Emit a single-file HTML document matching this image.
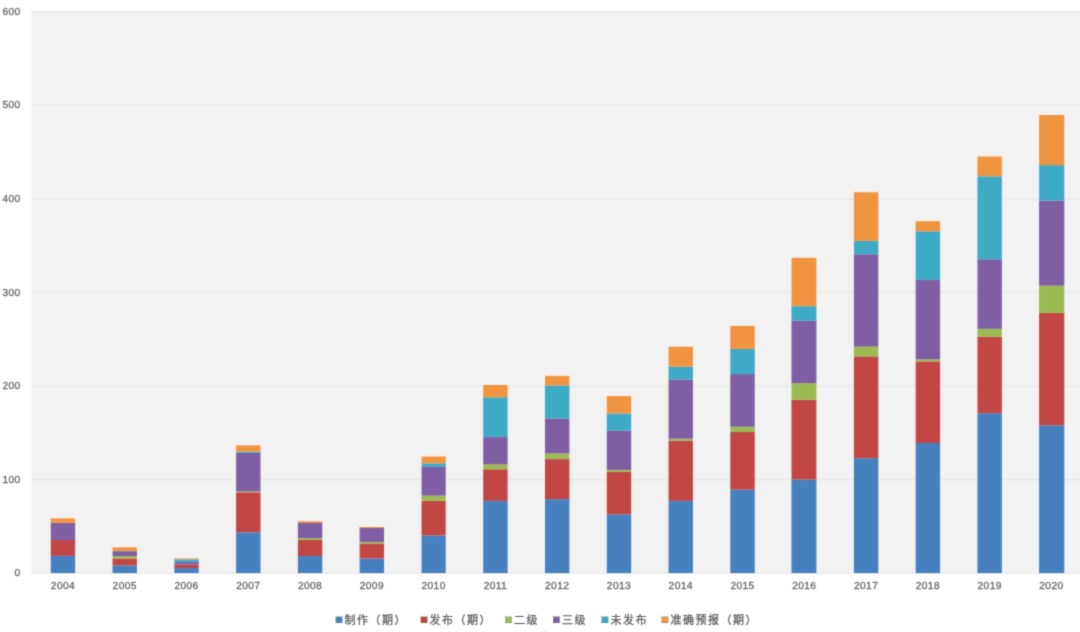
<!DOCTYPE html>
<html lang="zh">
<head>
<meta charset="utf-8">
<title>chart</title>
<style>
html,body{margin:0;padding:0;background:#fff;}
body{width:1080px;height:632px;overflow:hidden;font-family:"Liberation Sans","Noto Sans CJK SC",sans-serif;}
svg{display:block;}
.ax{font-family:"Liberation Sans",sans-serif;font-size:10.2px;letter-spacing:0.4px;text-rendering:geometricPrecision;fill:#646464;stroke:#646464;stroke-width:0.28px;}
.lg{font-family:"Liberation Sans","Noto Sans CJK SC",sans-serif;font-size:11px;letter-spacing:1.5px;fill:#585858;stroke:#585858;stroke-width:0.25px;}
</style>
</head>
<body>
<svg width="1080" height="632" viewBox="0 0 1080 632">
<defs><filter id="soft" filterUnits="userSpaceOnUse" x="0" y="0" width="1080" height="632" color-interpolation-filters="sRGB"><feConvolveMatrix order="3" kernelMatrix="0.0289 0.1122 0.0289 0.1122 0.4356 0.1122 0.0289 0.1122 0.0289" edgeMode="duplicate" preserveAlpha="true"/></filter></defs>
<g filter="url(#soft)">
<rect x="0" y="0" width="1080" height="632" fill="#ffffff"/>
<rect x="31.6" y="10.4" width="1053.4" height="562.90" fill="#f2f2f2"/>
<g stroke="#e7e7e7" stroke-width="1.3">
<line x1="31.6" y1="573.20" x2="1085" y2="573.20"/>
<line x1="31.6" y1="479.75" x2="1085" y2="479.75"/>
<line x1="31.6" y1="386.10" x2="1085" y2="386.10"/>
<line x1="31.6" y1="292.45" x2="1085" y2="292.45"/>
<line x1="31.6" y1="198.80" x2="1085" y2="198.80"/>
<line x1="31.6" y1="105.15" x2="1085" y2="105.15"/>
<line x1="31.6" y1="11.85" x2="1085" y2="11.85"/>
</g>
<g class="ax" text-anchor="end">
<text x="20.6" y="575.70">0</text>
<text x="20.6" y="483.05">100</text>
<text x="20.6" y="389.40">200</text>
<text x="20.6" y="295.75">300</text>
<text x="20.6" y="202.10">400</text>
<text x="20.6" y="108.45">500</text>
<text x="20.6" y="14.80">600</text>
</g>
<g>
<rect x="50.75" y="555.88" width="24.4" height="17.23" fill="#4680BF"/>
<rect x="50.75" y="540.03" width="24.4" height="15.84" fill="#C14644"/>
<rect x="50.75" y="522.88" width="24.4" height="17.16" fill="#7E5FA3"/>
<rect x="50.75" y="518.38" width="24.4" height="4.50" fill="#F19440"/>
</g>
<g>
<rect x="112.53" y="565.44" width="24.4" height="7.66" fill="#4680BF"/>
<rect x="112.53" y="558.50" width="24.4" height="6.94" fill="#C14644"/>
<rect x="112.53" y="556.16" width="24.4" height="2.34" fill="#9BBB52"/>
<rect x="112.53" y="551.19" width="24.4" height="4.97" fill="#7E5FA3"/>
<rect x="112.53" y="550.91" width="24.4" height="0.28" fill="#3DAAC6"/>
<rect x="112.53" y="547.34" width="24.4" height="3.56" fill="#F19440"/>
</g>
<g>
<rect x="174.31" y="568.06" width="24.4" height="5.04" fill="#4680BF"/>
<rect x="174.31" y="564.50" width="24.4" height="3.56" fill="#C14644"/>
<rect x="174.31" y="562.06" width="24.4" height="2.44" fill="#7E5FA3"/>
<rect x="174.31" y="559.44" width="24.4" height="2.62" fill="#3DAAC6"/>
<rect x="174.31" y="558.50" width="24.4" height="0.94" fill="#F19440"/>
</g>
<g>
<rect x="236.09" y="532.25" width="24.4" height="40.85" fill="#4680BF"/>
<rect x="236.09" y="492.31" width="24.4" height="39.94" fill="#C14644"/>
<rect x="236.09" y="491.38" width="24.4" height="0.94" fill="#9BBB52"/>
<rect x="236.09" y="452.94" width="24.4" height="38.44" fill="#7E5FA3"/>
<rect x="236.09" y="451.62" width="24.4" height="1.31" fill="#3DAAC6"/>
<rect x="236.09" y="445.34" width="24.4" height="6.28" fill="#F19440"/>
</g>
<g>
<rect x="297.87" y="555.97" width="24.4" height="17.13" fill="#4680BF"/>
<rect x="297.87" y="540.03" width="24.4" height="15.94" fill="#C14644"/>
<rect x="297.87" y="538.16" width="24.4" height="1.88" fill="#9BBB52"/>
<rect x="297.87" y="522.97" width="24.4" height="15.19" fill="#7E5FA3"/>
<rect x="297.87" y="521.28" width="24.4" height="1.69" fill="#F19440"/>
</g>
<g>
<rect x="359.65" y="558.50" width="24.4" height="14.60" fill="#4680BF"/>
<rect x="359.65" y="543.59" width="24.4" height="14.91" fill="#C14644"/>
<rect x="359.65" y="541.91" width="24.4" height="1.69" fill="#9BBB52"/>
<rect x="359.65" y="527.94" width="24.4" height="13.97" fill="#7E5FA3"/>
<rect x="359.65" y="527.00" width="24.4" height="0.94" fill="#F19440"/>
</g>
<g>
<rect x="421.58" y="535.53" width="24.1" height="37.57" fill="#4680BF"/>
<rect x="421.58" y="500.84" width="24.1" height="34.69" fill="#C14644"/>
<rect x="421.58" y="495.69" width="24.1" height="5.16" fill="#9BBB52"/>
<rect x="421.58" y="466.91" width="24.1" height="28.78" fill="#7E5FA3"/>
<rect x="421.58" y="463.34" width="24.1" height="3.56" fill="#3DAAC6"/>
<rect x="421.58" y="456.50" width="24.1" height="6.84" fill="#F19440"/>
</g>
<g>
<rect x="483.21" y="500.84" width="24.4" height="72.26" fill="#4680BF"/>
<rect x="483.21" y="469.25" width="24.4" height="31.59" fill="#C14644"/>
<rect x="483.21" y="464.28" width="24.4" height="4.97" fill="#9BBB52"/>
<rect x="483.21" y="437.09" width="24.4" height="27.19" fill="#7E5FA3"/>
<rect x="483.21" y="397.25" width="24.4" height="39.84" fill="#3DAAC6"/>
<rect x="483.21" y="384.97" width="24.4" height="12.28" fill="#F19440"/>
</g>
<g>
<rect x="544.99" y="499.16" width="24.4" height="73.94" fill="#4680BF"/>
<rect x="544.99" y="459.12" width="24.4" height="40.03" fill="#C14644"/>
<rect x="544.99" y="453.41" width="24.4" height="5.72" fill="#9BBB52"/>
<rect x="544.99" y="418.44" width="24.4" height="34.97" fill="#7E5FA3"/>
<rect x="544.99" y="385.44" width="24.4" height="33.00" fill="#3DAAC6"/>
<rect x="544.99" y="375.88" width="24.4" height="9.56" fill="#F19440"/>
</g>
<g>
<rect x="606.77" y="514.44" width="24.4" height="58.66" fill="#4680BF"/>
<rect x="606.77" y="471.78" width="24.4" height="42.66" fill="#C14644"/>
<rect x="606.77" y="469.91" width="24.4" height="1.88" fill="#9BBB52"/>
<rect x="606.77" y="430.53" width="24.4" height="39.38" fill="#7E5FA3"/>
<rect x="606.77" y="413.47" width="24.4" height="17.06" fill="#3DAAC6"/>
<rect x="606.77" y="396.12" width="24.4" height="17.34" fill="#F19440"/>
</g>
<g>
<rect x="668.55" y="500.84" width="24.4" height="72.26" fill="#4680BF"/>
<rect x="668.55" y="440.56" width="24.4" height="60.28" fill="#C14644"/>
<rect x="668.55" y="438.69" width="24.4" height="1.88" fill="#9BBB52"/>
<rect x="668.55" y="379.44" width="24.4" height="59.25" fill="#7E5FA3"/>
<rect x="668.55" y="366.69" width="24.4" height="12.75" fill="#3DAAC6"/>
<rect x="668.55" y="346.72" width="24.4" height="19.97" fill="#F19440"/>
</g>
<g>
<rect x="730.33" y="489.69" width="24.4" height="83.41" fill="#4680BF"/>
<rect x="730.33" y="431.94" width="24.4" height="57.75" fill="#C14644"/>
<rect x="730.33" y="426.78" width="24.4" height="5.16" fill="#9BBB52"/>
<rect x="730.33" y="374.09" width="24.4" height="52.69" fill="#7E5FA3"/>
<rect x="730.33" y="348.97" width="24.4" height="25.12" fill="#3DAAC6"/>
<rect x="730.33" y="325.91" width="24.4" height="23.06" fill="#F19440"/>
</g>
<g>
<rect x="791.50" y="479.56" width="24.9" height="93.54" fill="#4680BF"/>
<rect x="791.50" y="399.78" width="24.9" height="79.78" fill="#C14644"/>
<rect x="791.50" y="383.19" width="24.9" height="16.59" fill="#9BBB52"/>
<rect x="791.50" y="320.66" width="24.9" height="62.53" fill="#7E5FA3"/>
<rect x="791.50" y="306.22" width="24.9" height="14.44" fill="#3DAAC6"/>
<rect x="791.50" y="257.84" width="24.9" height="48.38" fill="#F19440"/>
</g>
<g>
<rect x="853.89" y="458.19" width="24.4" height="114.91" fill="#4680BF"/>
<rect x="853.89" y="356.38" width="24.4" height="101.81" fill="#C14644"/>
<rect x="853.89" y="346.62" width="24.4" height="9.75" fill="#9BBB52"/>
<rect x="853.89" y="254.28" width="24.4" height="92.34" fill="#7E5FA3"/>
<rect x="853.89" y="240.88" width="24.4" height="13.41" fill="#3DAAC6"/>
<rect x="853.89" y="192.22" width="24.4" height="48.66" fill="#F19440"/>
</g>
<g>
<rect x="915.67" y="443.00" width="24.4" height="130.10" fill="#4680BF"/>
<rect x="915.67" y="361.44" width="24.4" height="81.56" fill="#C14644"/>
<rect x="915.67" y="359.47" width="24.4" height="1.97" fill="#9BBB52"/>
<rect x="915.67" y="279.88" width="24.4" height="79.59" fill="#7E5FA3"/>
<rect x="915.67" y="231.31" width="24.4" height="48.56" fill="#3DAAC6"/>
<rect x="915.67" y="221.19" width="24.4" height="10.12" fill="#F19440"/>
</g>
<g>
<rect x="977.45" y="413.19" width="24.4" height="159.91" fill="#4680BF"/>
<rect x="977.45" y="336.69" width="24.4" height="76.50" fill="#C14644"/>
<rect x="977.45" y="328.81" width="24.4" height="7.88" fill="#9BBB52"/>
<rect x="977.45" y="259.25" width="24.4" height="69.56" fill="#7E5FA3"/>
<rect x="977.45" y="176.28" width="24.4" height="82.97" fill="#3DAAC6"/>
<rect x="977.45" y="156.50" width="24.4" height="19.78" fill="#F19440"/>
</g>
<g>
<rect x="1039.10" y="425.28" width="25.2" height="147.82" fill="#4680BF"/>
<rect x="1039.10" y="312.97" width="25.2" height="112.31" fill="#C14644"/>
<rect x="1039.10" y="285.69" width="25.2" height="27.28" fill="#9BBB52"/>
<rect x="1039.10" y="200.66" width="25.2" height="85.03" fill="#7E5FA3"/>
<rect x="1039.10" y="165.12" width="25.2" height="35.53" fill="#3DAAC6"/>
<rect x="1039.10" y="114.97" width="25.2" height="50.16" fill="#F19440"/>
</g>
<g class="ax" text-anchor="middle">
<text x="62.95" y="589.4">2004</text>
<text x="124.73" y="589.4">2005</text>
<text x="186.51" y="589.4">2006</text>
<text x="248.29" y="589.4">2007</text>
<text x="310.07" y="589.4">2008</text>
<text x="371.85" y="589.4">2009</text>
<text x="433.63" y="589.4">2010</text>
<text x="495.41" y="589.4">2011</text>
<text x="557.19" y="589.4">2012</text>
<text x="618.97" y="589.4">2013</text>
<text x="680.75" y="589.4">2014</text>
<text x="742.53" y="589.4">2015</text>
<text x="804.31" y="589.4">2016</text>
<text x="866.09" y="589.4">2017</text>
<text x="927.87" y="589.4">2018</text>
<text x="989.65" y="589.4">2019</text>
<text x="1051.43" y="589.4">2020</text>
</g>
<rect x="542.5" y="631.2" width="4.5" height="1" fill="#ececec"/>
<g class="lg">
<rect x="335.9" y="616.8" width="6.3" height="6.1" fill="#4680BF"/>
<text x="344.6" y="623.9">制作（期）</text>
<rect x="420.9" y="616.8" width="6.3" height="6.1" fill="#C14644"/>
<text x="429.6" y="623.9">发布（期）</text>
<rect x="505.3" y="616.8" width="6.3" height="6.1" fill="#9BBB52"/>
<text x="514.0" y="623.9">二级</text>
<rect x="553.3" y="616.8" width="6.3" height="6.1" fill="#7E5FA3"/>
<text x="562.0" y="623.9">三级</text>
<rect x="601.8" y="616.8" width="6.3" height="6.1" fill="#3DAAC6"/>
<text x="610.5" y="623.9">未发布</text>
<rect x="661.8" y="616.8" width="6.3" height="6.1" fill="#F19440"/>
<text x="670.5" y="623.9">准确预报（期）</text>
</g>
</g>
</svg>
</body>
</html>
